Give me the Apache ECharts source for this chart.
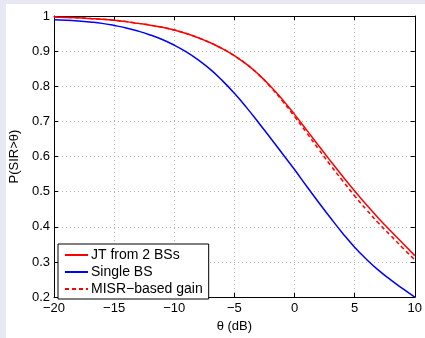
<!DOCTYPE html>
<html><head><meta charset="utf-8">
<script src="https://cdn.jsdelivr.net/npm/echarts@6/dist/echarts.min.js"></script>
<style>html,body{margin:0;padding:0;background:#e8e8f4;}#c{width:425px;height:338px;}</style>
</head><body><div id="c"></div>
<script>
var theta = [-20,-19,-18,-17,-16,-15,-14,-13,-12,-11,-10,-9,-8,-7,-6,-5,-4,-3,-2,-1,0,1,2,3,4,5,6,7,8,9,10];
var jtTwoBS = [0.997,0.996,0.995,0.993,0.991,0.988,0.984,0.979,0.974,0.968,0.960,0.950,0.938,0.924,0.907,0.887,0.863,0.834,0.800,0.762,0.720,0.676,0.631,0.587,0.544,0.502,0.462,0.424,0.388,0.353,0.318];
var singleBS = [0.989,0.988,0.986,0.983,0.979,0.973,0.966,0.957,0.946,0.933,0.917,0.898,0.875,0.848,0.816,0.780,0.740,0.697,0.653,0.608,0.563,0.516,0.470,0.425,0.382,0.342,0.307,0.276,0.249,0.224,0.200];
var misrGain = [0.997,0.996,0.995,0.993,0.991,0.988,0.984,0.979,0.974,0.968,0.960,0.950,0.938,0.924,0.907,0.887,0.863,0.834,0.798,0.758,0.714,0.668,0.621,0.575,0.531,0.488,0.448,0.410,0.375,0.340,0.306];
var seriesNames = ['JT from 2 BSs','Single BS','MISR\u2212based gain'];
var xTicks = {min:-20, max:10, step:5};
var yTicks = {min:0.2, max:1, step:0.1};

function pairs(ys){ return theta.map(function(t,i){ return [t, ys[i]]; }); }
var font = 'Liberation Sans, Arial, sans-serif';
var chart = echarts.init(document.getElementById('c'), null, {renderer:'canvas'});
var axisLine = {show:true, onZero:false, lineStyle:{color:'#000', width:1}};
var axisTick = {show:true, inside:true, length:4, lineStyle:{color:'#000'}};
chart.setOption({
  animation:false,
  backgroundColor:'#e8e8f4',
  graphic:[{type:'rect', z:-10, shape:{x:6,y:4,width:419,height:334}, style:{fill:'#ffffff'}}],
  grid:{left:54, right:7, top:16, bottom:35},
  legend:{
    data:seriesNames, orient:'vertical', left:58, top:244,
    backgroundColor:'#fff', borderColor:'#000', borderWidth:1,
    padding:[4,6,3,6], itemGap:3, itemWidth:23, itemHeight:14,
    itemStyle:{opacity:0},
    textStyle:{fontFamily:font, fontSize:14, color:'#000', padding:[0,0,0,-2]}
  },
  xAxis:[{
    type:'value', min:xTicks.min, max:xTicks.max, interval:xTicks.step,
    name:'\u03b8 (dB)', nameLocation:'middle', nameGap:22,
    nameTextStyle:{fontFamily:font, fontSize:13, color:'#000'},
    axisLabel:{fontFamily:font, fontSize:13, color:'#000', margin:5,
      formatter:function(v){ return String(v).replace('-','\u2212'); }},
    splitLine:{show:true, lineStyle:{color:'#b4b4b4', type:[1,3], width:1}},
    axisLine:axisLine, axisTick:axisTick
  },{
    type:'value', position:'top', min:xTicks.min, max:xTicks.max, interval:xTicks.step,
    axisLabel:{show:false}, splitLine:{show:false},
    axisLine:axisLine, axisTick:axisTick
  }],
  yAxis:[{
    type:'value', min:yTicks.min, max:yTicks.max, interval:yTicks.step,
    name:'P(SIR>\u03b8)', nameLocation:'middle', nameGap:28, nameRotate:90,
    nameTextStyle:{fontFamily:font, fontSize:13, color:'#000'},
    axisLabel:{fontFamily:font, fontSize:13, color:'#000', margin:4,
      formatter:function(v){ return v===1 ? '1' : v.toFixed(1); }},
    splitLine:{show:true, lineStyle:{color:'#b4b4b4', type:[1,3], width:1}},
    axisLine:axisLine, axisTick:axisTick
  },{
    type:'value', position:'right', min:yTicks.min, max:yTicks.max, interval:yTicks.step,
    axisLabel:{show:false}, splitLine:{show:false},
    axisLine:axisLine, axisTick:axisTick
  }],
  series:[
    {name:seriesNames[1], type:'line', data:pairs(singleBS), smooth:true, symbol:'none',
     lineStyle:{color:'#0000ff', width:1.5}, itemStyle:{color:'#0000ff'}},
    {name:seriesNames[2], type:'line', data:pairs(misrGain), smooth:true, symbol:'none',
     lineStyle:{color:'#ff0000', width:1.5, type:[4,3]}, itemStyle:{color:'#ff0000'}},
    {name:seriesNames[0], type:'line', data:pairs(jtTwoBS), smooth:true, symbol:'none',
     lineStyle:{color:'#ff0000', width:1.5}, itemStyle:{color:'#ff0000'}}
  ]
});
</script></body></html>
